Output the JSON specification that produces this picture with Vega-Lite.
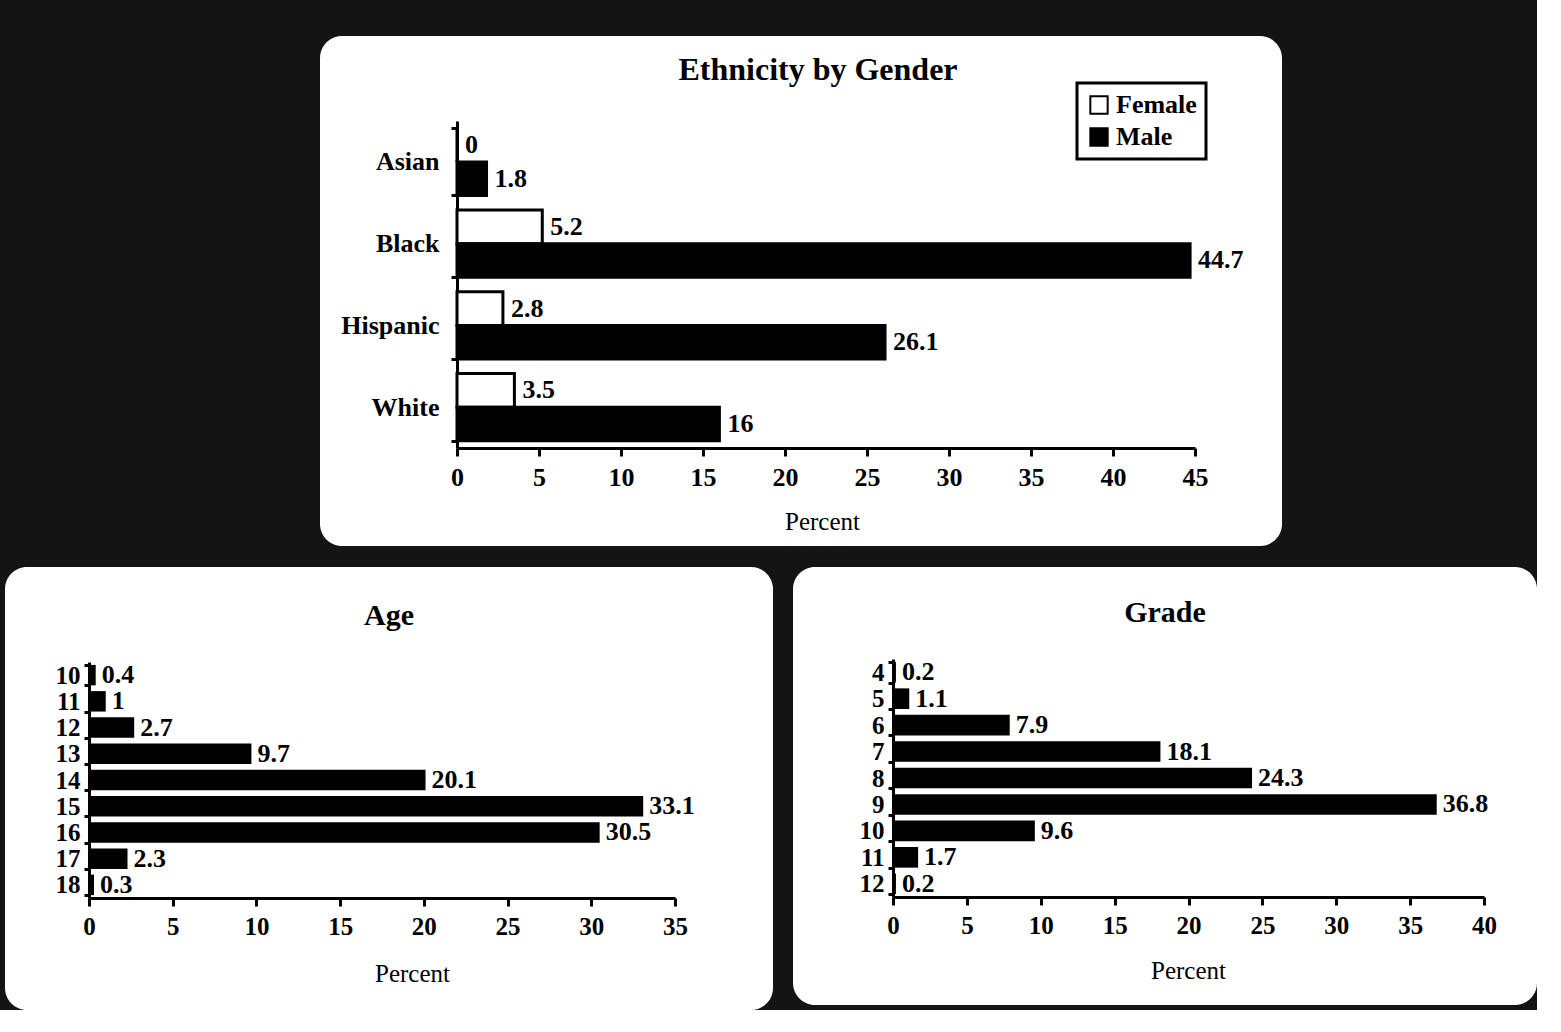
{
  "$schema": "https://vega.github.io/schema/vega-lite/v6.json",
  "background": "#141414",
  "padding": {"left": 5, "top": 23, "right": 0, "bottom": 0},
  "spacing": 9,
  "resolve": {"scale": {"color": "independent"}, "legend": {"color": "independent"}},
  "datasets": {
    "eth": [
      {"Ethnicity": "Asian", "Gender": "Female", "Percent": 0},
      {"Ethnicity": "Asian", "Gender": "Male", "Percent": 1.8},
      {"Ethnicity": "Black", "Gender": "Female", "Percent": 5.2},
      {"Ethnicity": "Black", "Gender": "Male", "Percent": 44.7},
      {"Ethnicity": "Hispanic", "Gender": "Female", "Percent": 2.8},
      {"Ethnicity": "Hispanic", "Gender": "Male", "Percent": 26.1},
      {"Ethnicity": "White", "Gender": "Female", "Percent": 3.5},
      {"Ethnicity": "White", "Gender": "Male", "Percent": 16}
    ],
    "age": [
      {"Age": 10, "Percent": 0.4},
      {"Age": 11, "Percent": 1},
      {"Age": 12, "Percent": 2.7},
      {"Age": 13, "Percent": 9.7},
      {"Age": 14, "Percent": 20.1},
      {"Age": 15, "Percent": 33.1},
      {"Age": 16, "Percent": 30.5},
      {"Age": 17, "Percent": 2.3},
      {"Age": 18, "Percent": 0.3}
    ],
    "grade": [
      {"Grade": 4, "Percent": 0.2},
      {"Grade": 5, "Percent": 1.1},
      {"Grade": 6, "Percent": 7.9},
      {"Grade": 7, "Percent": 18.1},
      {"Grade": 8, "Percent": 24.3},
      {"Grade": 9, "Percent": 36.8},
      {"Grade": 10, "Percent": 9.6},
      {"Grade": 11, "Percent": 1.7},
      {"Grade": 12, "Percent": 0.2}
    ]
  },
  "vconcat": [
    {
      "spacing": 0,
      "hconcat": [
        {
          "width": 315,
          "height": 10,
          "view": {"fill": null, "stroke": null},
          "data": {"values": [{}]},
          "mark": {"type": "point", "opacity": 0},
          "encoding": {}
        },
        {
          "width": 962,
          "height": 510,
          "title": {"text": "Ethnicity by Gender", "offset": -64, "dx": 17, "fontSize": 32},
          "data": {"name": "eth"},
          "encoding": {
            "y": {
              "field": "Ethnicity", "type": "nominal",
              "sort": ["Asian", "Black", "Hispanic", "White"],
              "scale": {"range": [85, 412], "paddingInner": 0.18, "paddingOuter": 0.09},
              "axis": {"title": null, "offset": -137, "tickBand": "extent", "tickSize": 6, "labelPadding": 12, "labelFontSize": 26}
            },
            "x": {
              "field": "Percent", "type": "quantitative",
              "scale": {"domain": [0, 45], "range": [137, 875], "nice": false},
              "axis": {"values": [0, 5, 10, 15, 20, 25, 30, 35, 40, 45], "offset": -98, "tickSize": 8, "labelPadding": 8, "labelFontSize": 26,
                       "title": "Percent", "titleX": 502, "titleY": 73}
            },
            "yOffset": {"field": "Gender", "type": "nominal", "sort": ["Female", "Male"]}
          },
          "layer": [
            {
              "mark": {"type": "bar", "stroke": "black", "strokeWidth": 3},
              "encoding": {
                "color": {
                  "field": "Gender", "type": "nominal",
                  "scale": {"domain": ["Female", "Male"], "range": ["white", "black"]},
                  "legend": {"title": null, "orient": "none", "legendX": 1072, "legendY": 47}
                }
              }
            },
            {
              "mark": {"type": "text", "align": "left", "baseline": "middle", "dx": 8, "fontSize": 26, "fontWeight": "bold", "color": "black"},
              "encoding": {"text": {"field": "Percent", "type": "quantitative"}}
            }
          ]
        }
      ]
    },
    {
      "spacing": 20,
      "hconcat": [
        {
          "width": 768,
          "height": 443,
          "title": {"text": "Age", "offset": -76},
          "data": {"name": "age"},
          "encoding": {
            "y": {
              "field": "Age", "type": "ordinal",
              "scale": {"range": [95, 331], "paddingInner": 0.22, "paddingOuter": 0.11},
              "axis": {"title": null, "offset": -84, "tickBand": "extent", "tickSize": 5, "labelPadding": 4}
            },
            "x": {
              "field": "Percent", "type": "quantitative",
              "scale": {"domain": [0, 35], "range": [84, 670], "nice": false},
              "axis": {"values": [0, 5, 10, 15, 20, 25, 30, 35], "offset": -112, "tickSize": 8, "labelPadding": 8,
                       "title": "Percent", "titleX": 407, "titleY": 75}
            }
          },
          "layer": [
            {"mark": {"type": "bar", "color": "black"}},
            {
              "mark": {"type": "text", "align": "left", "baseline": "middle", "dx": 6, "fontSize": 26, "fontWeight": "bold", "color": "black"},
              "encoding": {"text": {"field": "Percent", "type": "quantitative"}}
            }
          ]
        },
        {
          "width": 744,
          "height": 438,
          "title": {"text": "Grade", "offset": -73},
          "data": {"name": "grade"},
          "encoding": {
            "y": {
              "field": "Grade", "type": "ordinal",
              "scale": {"range": [92, 330], "paddingInner": 0.22, "paddingOuter": 0.11},
              "axis": {"title": null, "offset": -100, "tickBand": "extent", "tickSize": 5, "labelPadding": 4}
            },
            "x": {
              "field": "Percent", "type": "quantitative",
              "scale": {"domain": [0, 40], "range": [100, 691], "nice": false},
              "axis": {"values": [0, 5, 10, 15, 20, 25, 30, 35, 40], "offset": -108, "tickSize": 8, "labelPadding": 8,
                       "title": "Percent", "titleX": 395, "titleY": 73}
            }
          },
          "layer": [
            {"mark": {"type": "bar", "color": "black"}},
            {
              "mark": {"type": "text", "align": "left", "baseline": "middle", "dx": 6, "fontSize": 26, "fontWeight": "bold", "color": "black"},
              "encoding": {"text": {"field": "Percent", "type": "quantitative"}}
            }
          ]
        }
      ]
    }
  ],
  "config": {
    "font": "Liberation Serif",
    "view": {"fill": "white", "stroke": null, "cornerRadius": 22},
    "axis": {
      "labelFont": "Liberation Serif", "labelFontSize": 25, "labelFontWeight": "bold", "labelColor": "black",
      "labelAngle": 0, "labelFlush": false, "labelOverlap": false,
      "domainColor": "black", "domainWidth": 3, "tickColor": "black", "tickWidth": 3, "grid": false,
      "titleFont": "Liberation Serif", "titleFontWeight": "normal", "titleFontSize": 25, "titleColor": "black",
      "titleBaseline": "middle", "titleAlign": "center"
    },
    "title": {"font": "Liberation Serif", "fontSize": 30, "fontWeight": "bold", "color": "black", "anchor": "middle", "frame": "group"},
    "legend": {
      "labelFont": "Liberation Serif", "labelFontSize": 26, "labelFontWeight": "bold", "labelColor": "black",
      "symbolType": "square", "symbolSize": 300, "symbolStrokeColor": "black", "symbolStrokeWidth": 2,
      "strokeColor": "black", "strokeWidth": 3, "fillColor": "white", "padding": 9, "rowPadding": 6
    }
  }
}
